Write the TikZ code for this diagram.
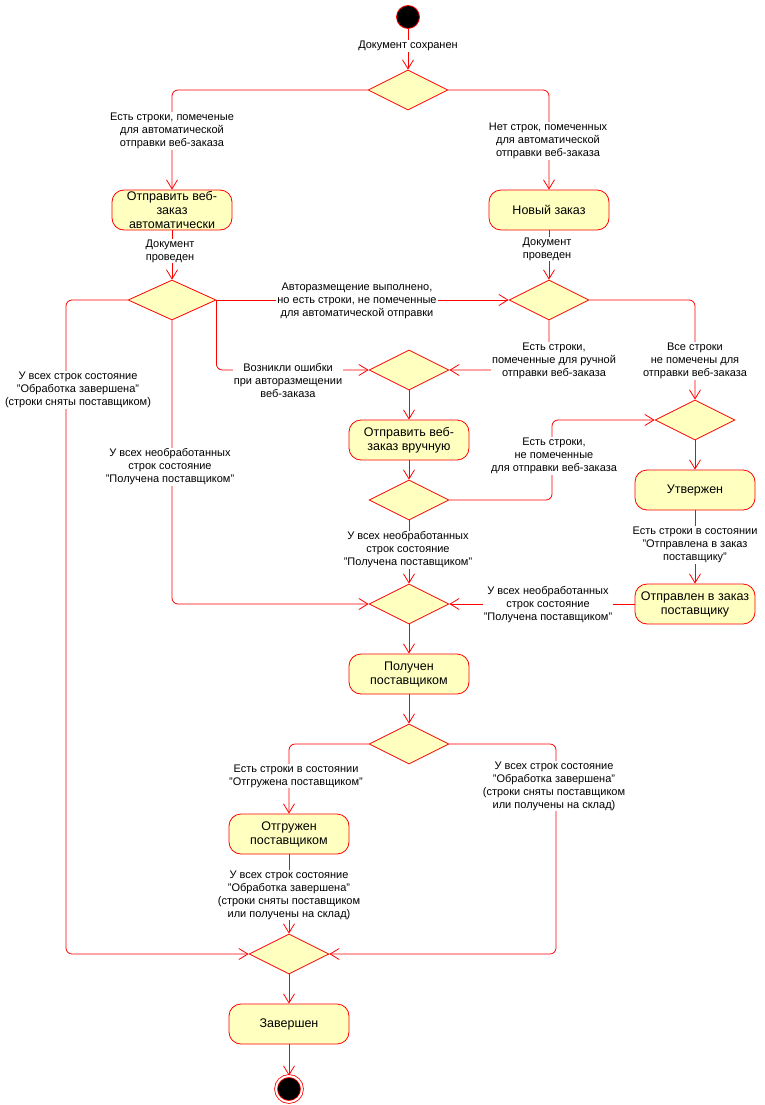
\documentclass[tikz,border=0pt]{standalone}
\usepackage{fontspec}
\setmainfont{Liberation Sans}
\usetikzlibrary{positioning,shapes.geometric,arrows.meta}

\definecolor{umlred}{RGB}{255,0,0}
\definecolor{umlfill}{RGB}{255,255,192}

\tikzset{
  on grid,
  state/.style={rectangle, rounded corners=12pt, draw=umlred, fill=umlfill,
    line width=0.8pt, minimum width=120pt, minimum height=40pt,
    inner xsep=2pt, inner ysep=0pt, align=center,
    font=\fontsize{12.5}{14}\selectfont},
  choice/.style={diamond, draw=umlred, fill=umlfill, line width=0.8pt,
    minimum width=80pt, minimum height=40pt, inner sep=0pt},
  startstate/.style={circle, draw=umlred, fill=black, line width=0.8pt,
    minimum size=23pt, inner sep=0pt},
  endstate/.style={circle, draw=umlred, fill=black, double=white,
    double distance=2pt, line width=0.8pt, minimum size=26pt, inner sep=0pt},
  flow/.style={draw=umlred, line width=0.8pt, rounded corners=6pt,
    -{Straight Barb[length=9pt,width=11pt]}},
  guard/.style={fill=white, align=center, inner sep=1pt,
    font=\fontsize{11}{13}\selectfont},
}

\begin{document}
\begin{tikzpicture}[x=1pt,y=-1pt]
    \useasboundingbox (0,0) rectangle (764,1105);
    % states and decisions
    \node[startstate] (start) at (408,17) {};
    \node[choice] (d1) at (408,90) {};
    \node[state] (a1) at (172,210) {Отправить веб-\\заказ\\автоматически};
    \node[state] (a2) at (549,210) {Новый заказ};
    \node[choice, minimum width=88pt, below=90pt of a1] (d2) {};
    \node[choice, below=90pt of a2] (d3) {};
    \node[choice] (d4) at (409,370) {};
    \node[state, below=70pt of d4] (a3) {Отправить веб-\\заказ вручную};
    \node[choice, below=60pt of a3] (d7) {};
    \node[choice, below=104pt of d7] (d5) {};
    \node[state, below=70pt of d5] (a6) {Получен\\поставщиком};
    \node[choice, below=70pt of a6] (d8) {};
    \node[choice] (d6) at (695,420) {};
    \node[state, below=70pt of d6] (a4) {Утвержен};
    \node[state, below=114pt of a4] (a5) {Отправлен в заказ\\поставщику};
    \node[state] (a7) at (289,834) {Отгружен\\поставщиком};
    \node[choice, below=120pt of a7] (d9) {};
    \node[state, below=70pt of d9] (a8) {Завершен};
    \node[endstate, below=65pt of a8] (stop) {};

    % transitions
    \draw[flow] (start) -- (d1);
    \draw[flow] (d1.west) -| (a1.north);
    \draw[flow] (d1.east) -| (a2.north);
    \draw[flow] (a1) -- (d2);
    \draw[flow] (a2) -- (d3);
    \draw[flow] (d2.east) -- (d3.west);
    \draw[flow] (d2.east) |- (d4.west);
    \draw[flow] (d2.west) -| (66,600) |- (d9.west);
    \draw[flow] (d2.south) |- (d5.west);
    \draw[flow] (d3.south) |- (d4.east);
    \draw[flow] (d3.east) -| (d6.north);
    \draw[flow] (d4) -- (a3);
    \draw[flow] (a3) -- (d7);
    \draw[flow] (d7.east) -| (552,460) |- (d6.west);
    \draw[flow] (d6) -- (a4);
    \draw[flow] (a4) -- (a5);
    \draw[flow] (a5) -- (d5);
    \draw[flow] (d7) -- (d5);
    \draw[flow] (d5) -- (a6);
    \draw[flow] (a6) -- (d8);
    \draw[flow] (d8.west) -| (a7.north);
    \draw[flow] (d8.east) -| (556,850) |- (d9.east);
    \draw[flow] (a7) -- (d9);
    \draw[flow] (d9) -- (a8);
    \draw[flow] (a8) -- (stop);

    % guard labels
    \node[guard] (l0) at (408,46) {Документ сохранен};
    \node[guard] (l1) at (172,131) {Есть строки, помеченые\\для автоматической\\отправки веб-заказа};
    \node[guard] (l2) at (548,141) {Нет строк, помеченных\\для автоматической\\отправки веб-заказа};
    \node[guard] (l3) at (170,251) {Документ\\проведен};
    \node[guard] (l4) at (547,249) {Документ\\проведен};
    \node[guard] (l5) at (357,301) {Авторазмещение выполнено,\\но есть строки, не помеченные\\для автоматической отправки};
    \node[guard] (l6) at (288,381) {Возникли ошибки\\при авторазмещении\\веб-заказа};
    \node[guard] (l7) at (554,361) {Есть строки,\\помеченные для ручной\\отправки веб-заказа};
    \node[guard] (l8) at (695,361) {Все строки\\не помечены для\\отправки веб-заказа};
    \node[guard] (l9) at (78,390) {У всех строк состояние\\"Обработка завершена"\\(строки сняты поставщиком)};
    \node[guard] (l10) at (170,467) {У всех необработанных\\строк состояние\\"Получена поставщиком"};
    \node[guard] (l11) at (554,456) {Есть строки,\\не помеченные\\для отправки веб-заказа};
    \node[guard] (l12) at (695,545) {Есть строки в состоянии\\"Отправлена в заказ\\поставщику"};
    \node[guard] (l13) at (408,550) {У всех необработанных\\строк состояние\\"Получена поставщиком"};
    \node[guard] (l14) at (548,605) {У всех необработанных\\строк состояние\\"Получена поставщиком"};
    \node[guard] (l15) at (296,776) {Есть строки в состоянии\\"Отгружена поставщиком"};
    \node[guard] (l16) at (554,786) {У всех строк состояние\\"Обработка завершена"\\(строки сняты поставщиком\\или получены на склад)};
    \node[guard] (l17) at (289,895) {У всех строк состояние\\"Обработка завершена"\\(строки сняты поставщиком\\или получены на склад)};
\end{tikzpicture}
\end{document}
